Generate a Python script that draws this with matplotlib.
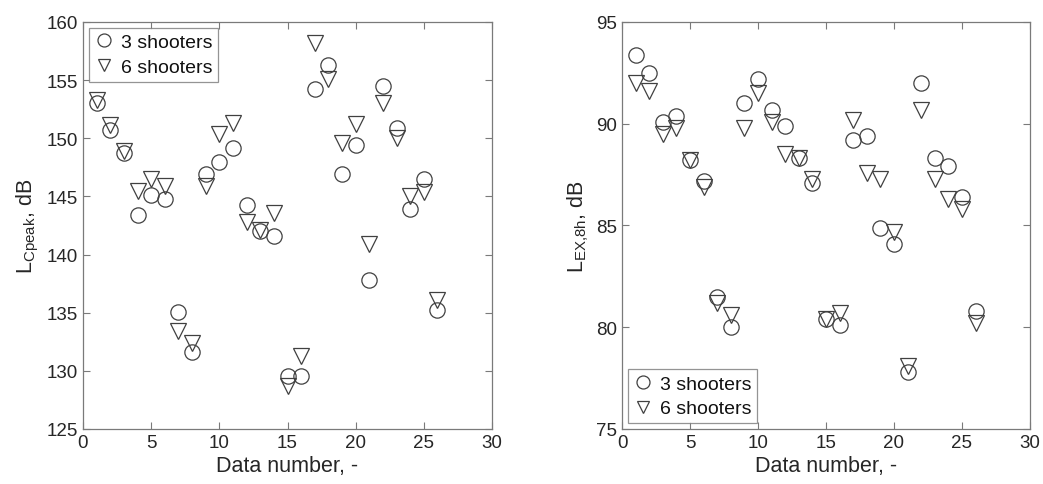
import matplotlib
matplotlib.use("Agg")
import matplotlib.pyplot as plt
import numpy as np

plt.rcParams['font.family'] = ['Liberation Sans', 'DejaVu Sans']
plt.rcParams['mathtext.fontset'] = 'custom'
plt.rcParams['mathtext.rm'] = 'Liberation Sans'
plt.rcParams['mathtext.it'] = 'Liberation Sans'

data_no = np.arange(1, 27)

# L_Cpeak, dB
cpeak_3 = [153.0, 150.7, 148.7, 143.4, 145.1, 144.8, 135.1, 131.6, 146.9, 148.0,
           149.2, 144.3, 142.0, 141.6, 129.6, 129.6, 154.2, 156.3, 146.9, 149.4,
           137.8, 154.5, 150.9, 143.9, 146.5, 135.2]
cpeak_6 = [153.3, 151.1, 148.9, 145.5, 146.5, 145.9, 133.4, 132.4, 145.9, 150.4,
           151.3, 142.8, 142.1, 143.6, 128.7, 131.3, 158.2, 155.1, 149.6, 151.2,
           140.9, 153.0, 150.0, 145.0, 145.4, 136.1]

# L_EX,8h, dB
lex_3 = [93.4, 92.5, 90.1, 90.4, 88.2, 87.2, 81.5, 80.0, 91.0, 92.2,
         90.7, 89.9, 88.3, 87.1, 80.4, 80.1, 89.2, 89.4, 84.9, 84.1,
         77.8, 92.0, 88.3, 87.9, 86.4, 80.8]
lex_6 = [92.0, 91.6, 89.5, 89.8, 88.2, 86.9, 81.2, 80.6, 89.8, 91.5,
         90.1, 88.5, 88.3, 87.3, 80.4, 80.7, 90.2, 87.6, 87.3, 84.7,
         78.1, 90.7, 87.3, 86.3, 85.8, 80.2]

EDGE = '#404040'
AXC = '#7a7a7a'
TXT = '#262626'

fig = plt.figure(figsize=(10.43, 4.85), dpi=100)
ax1 = fig.add_axes([83 / 1043, 55 / 485, 409 / 1043, 407 / 485])
ax2 = fig.add_axes([622 / 1043, 55 / 485, 408 / 1043, 407 / 485])


def style(ax, ylim, yticks):
    ax.set_xlim(0, 30)
    ax.set_ylim(*ylim)
    ax.set_xticks(range(0, 31, 5))
    ax.set_yticks(yticks)
    ax.tick_params(direction='in', top=True, right=True, length=5,
                   width=0.8, color=AXC, labelcolor=TXT, labelsize=13.5)
    for s in ax.spines.values():
        s.set_color(AXC)
        s.set_linewidth(0.9)
    ax.set_xlabel("Data number, -", fontsize=15.5, color=TXT, labelpad=3)


def add_legend(ax, loc):
    leg = ax.legend(loc=loc, fontsize=14, frameon=True, fancybox=False,
                    handletextpad=0.35, handlelength=1.0, borderpad=0.3,
                    labelspacing=0.35, borderaxespad=0.3, markerscale=0.85)
    leg.get_frame().set_edgecolor(AXC)
    leg.get_frame().set_linewidth(0.9)
    for t in leg.get_texts():
        t.set_color('#111111')


mk = dict(linestyle='none', markerfacecolor='none', markeredgecolor=EDGE,
          markeredgewidth=0.9, markersize=11)

ax1.plot(data_no, cpeak_3, marker='o', label='3 shooters', **mk)
ax1.plot(data_no, cpeak_6, marker='v', label='6 shooters', **mk)
style(ax1, (125, 160), range(125, 161, 5))
ax1.set_ylabel(r'L$_{\mathregular{Cpeak}}$, dB', fontsize=15.5, color=TXT)
add_legend(ax1, 'upper left')

ax2.plot(data_no, lex_3, marker='o', label='3 shooters', **mk)
ax2.plot(data_no, lex_6, marker='v', label='6 shooters', **mk)
style(ax2, (75, 95), range(75, 96, 5))
ax2.set_ylabel(r'L$_{\mathregular{EX{,}8h}}$, dB', fontsize=15.5, color=TXT)
add_legend(ax2, 'lower left')

fig.savefig("out.png", dpi=100)
